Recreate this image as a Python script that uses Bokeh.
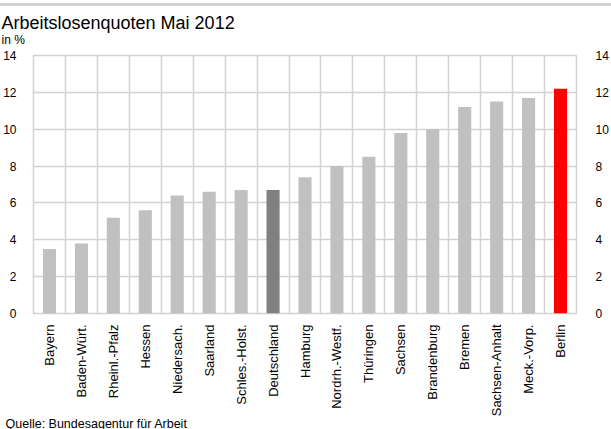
from bokeh.plotting import figure
from bokeh.models import Range1d, FixedTicker, LinearAxis, Title
from bokeh.embed import file_html
from bokeh.resources import INLINE

laender = ["Bayern", "Baden-Würt.", "Rheinl.-Pfalz", "Hessen", "Niedersach.", "Saarland",
           "Schles.-Holst.", "Deutschland", "Hamburg", "Nordrh.-Westf.", "Thüringen", "Sachsen",
           "Brandenburg", "Bremen", "Sachsen-Anhalt", "Meck.-Vorp.", "Berlin"]
quoten = [3.5, 3.8, 5.2, 5.6, 6.4, 6.6, 6.7, 6.7, 7.4, 8.0, 8.5, 9.8, 10.0, 11.2, 11.5, 11.7, 12.2]
y_ticks = [0, 2, 4, 6, 8, 10, 12, 14]

FONT = "Liberation Sans"
GRID = "#d2d2d2"

colors = []
for name in laender:
    if name == "Deutschland":
        colors.append("#808080")
    elif name == "Berlin":
        colors.append("#ff0000")
    else:
        colors.append("#c0c0c0")

n = len(laender)
xs = [i + 0.5 for i in range(n)]

W, H = 611, 429
FL, FR, FT, FB = 30, 581, 55, 313   # frame edges on the page

p = figure(width=W, height=H, output_backend="svg", toolbar_location=None,
           x_range=Range1d(0, n), y_range=Range1d(0, 14),
           min_border_left=FL, min_border_right=W - FR, min_border_top=FT, min_border_bottom=H - FB,
           y_axis_location=None, x_axis_location="below")
p.styles = {
    "position": "absolute", "left": "0px", "top": "0px",
    "background": "linear-gradient(to bottom, #ffffff 0px, #ffffff 3.5px, %s 3.5px, %s 6.5px, #ffffff 6.5px, #ffffff 100%%)" % (GRID, GRID),
}
p.background_fill_color = "white"
p.border_fill_color = "white"
p.border_fill_alpha = 0.0
p.outline_line_color = GRID
p.outline_line_width = 1.5

p.vbar(x=xs, top=quoten, width=0.41, bottom=0, fill_color=colors, line_color=None)

xa = p.xaxis[0]
xa.ticker = FixedTicker(ticks=xs)
xa.major_label_overrides = {x: name for x, name in zip(xs, laender)}
xa.major_label_orientation = 3.14159265 / 2
xa.major_label_text_font = FONT
xa.major_label_text_font_size = "13px"
xa.major_label_text_color = "black"
xa.major_label_standoff = 5
xa.axis_line_color = None
xa.major_tick_line_color = None
xa.minor_tick_line_color = None

p.xgrid.ticker = FixedTicker(ticks=list(range(n + 1)))
p.xgrid.grid_line_color = GRID
p.xgrid.grid_line_width = 1.5

for side, standoff in (("left", 11), ("right", 13)):
    ax = LinearAxis(ticker=FixedTicker(ticks=y_ticks))
    ax.major_label_text_font = FONT
    ax.major_label_text_font_size = "12px"
    ax.major_label_text_color = "black"
    ax.major_label_standoff = standoff
    ax.axis_line_color = None
    ax.major_tick_line_color = None
    ax.minor_tick_line_color = None
    p.add_layout(ax, side)

p.ygrid.ticker = FixedTicker(ticks=y_ticks)
p.ygrid.grid_line_color = GRID
p.ygrid.grid_line_width = 1.5

# texts: "in %" nearest to the frame, then the main title above it; source below the axis
p.add_layout(Title(text="in %", align="left", offset=-32, standoff=18,
                   text_font=FONT, text_font_size="12px", text_font_style="normal",
                   text_color="black"), "above")
p.add_layout(Title(text="Arbeitslosenquoten Mai 2012", align="left", offset=-32, standoff=-22,
                   text_font=FONT, text_font_size="18px", text_font_style="normal",
                   text_color="black"), "above")
p.add_layout(Title(text="Quelle: Bundesagentur für Arbeit", align="left", offset=-28, standoff=-22,
                   text_font=FONT, text_font_size="12.5px", text_font_style="normal",
                   text_color="black"), "below")

open("out.html", "w").write(file_html(p, INLINE))
